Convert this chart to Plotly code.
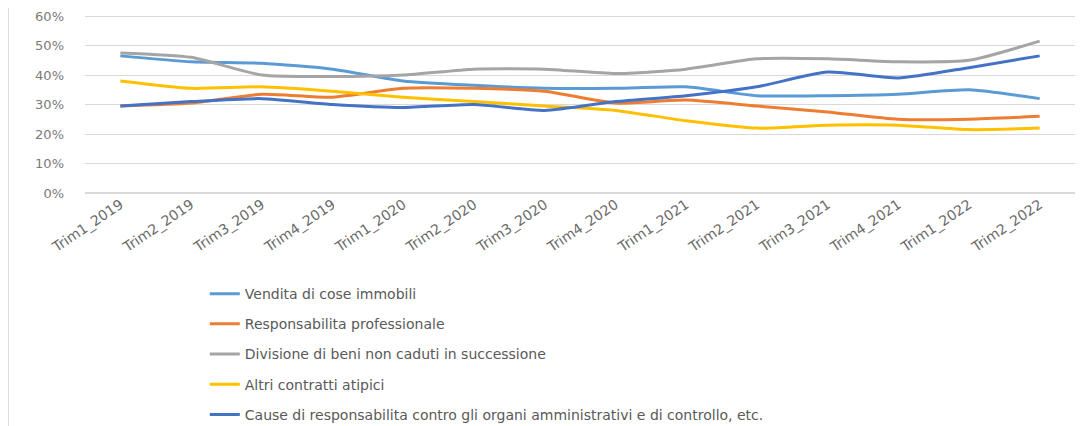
import plotly.graph_objects as go

categories = ["Trim1_2019", "Trim2_2019", "Trim3_2019", "Trim4_2019",
              "Trim1_2020", "Trim2_2020", "Trim3_2020", "Trim4_2020",
              "Trim1_2021", "Trim2_2021", "Trim3_2021", "Trim4_2021",
              "Trim1_2022", "Trim2_2022"]

vendita = [46.5, 44.5, 44.0, 42.0, 38.0, 36.5, 35.5, 35.5, 36.0, 33.0, 33.0, 33.5, 35.0, 32.0]
responsabilita = [29.5, 30.5, 33.5, 32.5, 35.5, 35.5, 34.5, 30.5, 31.5, 29.5, 27.5, 25.0, 25.0, 26.0]
divisione = [47.5, 46.0, 40.0, 39.5, 40.0, 42.0, 42.0, 40.5, 42.0, 45.5, 45.5, 44.5, 45.0, 51.5]
altri = [38.0, 35.5, 36.0, 34.5, 32.5, 31.0, 29.5, 28.0, 24.5, 22.0, 23.0, 23.0, 21.5, 22.0]
cause = [29.5, 31.0, 32.0, 30.0, 29.0, 30.0, 28.0, 31.0, 33.0, 36.0, 41.0, 39.0, 42.5, 46.5]

y_ticks = [0, 10, 20, 30, 40, 50, 60]
y_tick_labels = ["0%", "10%", "20%", "30%", "40%", "50%", "60%"]

series_names = ["Vendita di cose immobili",
                "Responsabilita professionale",
                "Divisione di beni non caduti in successione",
                "Altri contratti atipici",
                "Cause di responsabilita contro gli organi amministrativi e di controllo, etc."]
series_values = [vendita, responsabilita, divisione, altri, cause]
colors = ["#5B9BD5", "#ED7D31", "#A5A5A5", "#FFC000", "#4472C4"]

fig = go.Figure()
for i, (name, vals, col) in enumerate(zip(series_names, series_values, colors)):
    fig.add_trace(go.Scatter(
        x=categories, y=vals, name=name, mode="lines",
        line=dict(color=col, width=3, shape="spline", smoothing=0.6),
        legendgroup=f"g{i}",
    ))

fig.update_layout(
    width=1081, height=418,
    margin=dict(l=77, r=14, t=6, b=233),
    paper_bgcolor="white", plot_bgcolor="white",
    font=dict(family="DejaVu Sans, sans-serif", size=13, color="#666666"),
    showlegend=True,
    legend=dict(orientation="v", x=0.121, xanchor="left",
                yref="container", y=0.354, yanchor="top",
                traceorder="grouped", tracegroupgap=9,
                font=dict(size=14, color="#595959"), bgcolor="rgba(0,0,0,0)"),
    xaxis=dict(type="category", tickangle=-34, showgrid=False, showline=False,
               ticks="", automargin=False,
               tickfont=dict(size=14, color="#6a6a6a"), range=[-0.5, 13.5]),
    yaxis=dict(range=[0, 60.7], tickmode="array", tickvals=y_ticks, ticktext=y_tick_labels,
               showgrid=True, ticklabeloverflow="allow",
               gridcolor="#D9D9D9", gridwidth=1, zeroline=True, zerolinecolor="#D9D9D9",
               showline=False, ticks="", ticklabelstandoff=20, automargin=False,
               tickfont=dict(size=13, color="#7a7a7a")),
    shapes=[dict(type="line", xref="paper", yref="paper",
                 x0=-0.0778, x1=-0.0778, y0=1.1, y1=-1.35,
                 line=dict(color="#D0D0D0", width=1.5))],
)

fig.write_html("out.html")
